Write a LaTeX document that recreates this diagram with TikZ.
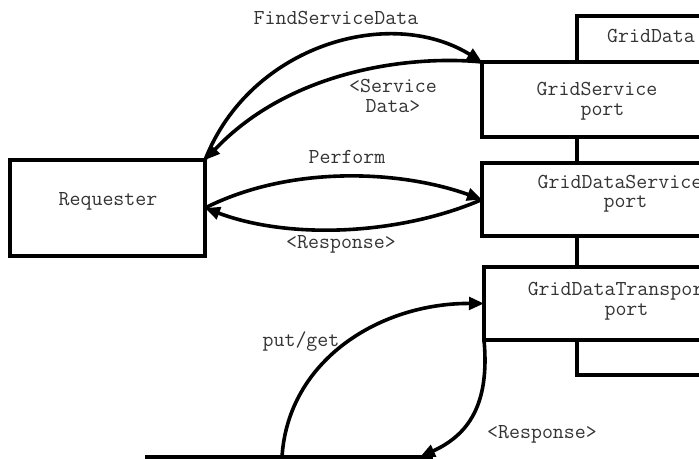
\documentclass[tikz,border=0pt]{standalone}
\usepackage{fontspec}
\usetikzlibrary{arrows.meta}
\begin{document}
\begin{tikzpicture}[x=1pt,y=-1pt,
  lw/.style={line width=3.6pt},
  box/.style={draw, lw, fill=white, rectangle, inner sep=0pt, outer sep=0pt, anchor=north west},
  txt/.style={font=\ttfamily\fontsize{21.3}{19.5}\selectfont, text=black!80, align=center, inner sep=0pt},
  flow/.style={lw, -{Triangle[length=15pt,width=12.5pt]}},
]
\useasboundingbox (0,0) rectangle (699,458);
\clip (0,0) rectangle (699,458);

% service container behind the ports
\node[box, minimum width=200pt, minimum height=359pt] (gd) at (577,16) {};
\node[txt, anchor=base] (gdlbl) at (651,42) {GridData};

% ports
\node[box, minimum width=230pt, minimum height=75pt] (gs) at (482,62) {};
\node[box, minimum width=280pt, minimum height=73pt] (gds) at (482,163) {};
\node[box, minimum width=280pt, minimum height=73pt] (gdt) at (484,267) {};
\node[txt] (gslbl) at (597,101) {GridService\\\hphantom{x}port};
\node[txt] (gdslbl) at (620,193.5) {GridDataService\\\hphantom{x}port};
\node[txt] (gdtlbl) at (621,301) {GridDataTransport\\\hphantom{x}port};

% requester
\node[box, minimum width=195pt, minimum height=96pt] (req) at (10,160) {};
\node[txt, anchor=base] (reqlbl) at (108,205) {Requester};

% message flows
\draw[flow] (req.north east) .. controls (250,45) and (390,5) .. (gs.north west);
\draw[flow] (gs.north west) .. controls (410,55) and (290,70) .. (req.north east);
\draw[flow] (req.east) .. controls (290,165) and (400,170) .. (gds.west);
\draw[flow] (gds.west) .. controls (400,235) and (290,240) .. (req.east);

% transport line
\coordinate (bl) at (145,457);
\coordinate (br) at (433,457);
\coordinate (pg) at (282,457);
\coordinate (rs) at (420,457);
\draw[lw] (bl) -- (br);
\draw[flow] (pg) .. controls (288,360) and (380,303) .. (gdt.west);
\draw[flow] (gdt.south west) .. controls (490,405) and (468,435) .. (rs);

% labels
\node[txt, anchor=base] (l1) at (336,24) {FindServiceData};
\node[txt] (l2) at (393,96) {<Service\\Data>};
\node[txt, anchor=base] (l3) at (347,163) {Perform};
\node[txt, anchor=base] (l4) at (341,248) {<Response>};
\node[txt, anchor=base] (l5) at (301,346) {put/get};
\node[txt, anchor=base] (l6) at (542,438) {<Response>};
\end{tikzpicture}
\end{document}
